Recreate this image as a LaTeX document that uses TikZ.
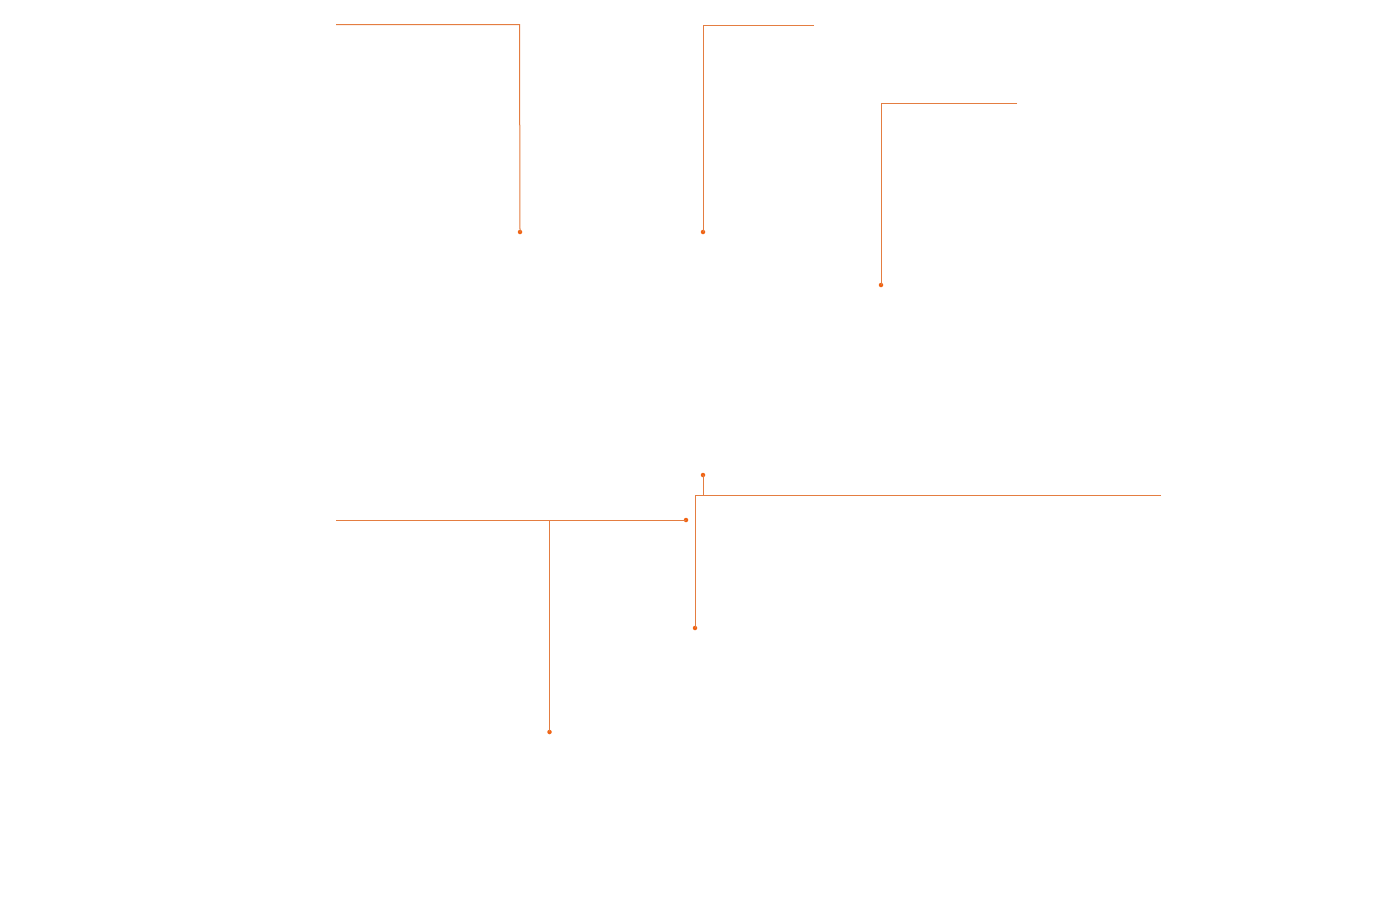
\documentclass[tikz,border=0pt]{standalone}
\definecolor{leader}{RGB}{228,125,65}
\definecolor{dotc}{RGB}{240,100,20}
\begin{document}
\begin{tikzpicture}[x=1pt,y=-1pt,
  leaderline/.style={draw=leader,line width=1pt},
  enddot/.style={circle,fill=dotc,inner sep=0pt,minimum size=4.5pt}]
\useasboundingbox (0,0) rectangle (1375,900);
\fill[white] (0,0) rectangle (1375,900);
% leader 1
\coordinate (a0) at (336,24.5);
\coordinate (a1) at (519.5,24.5);
\node[enddot] (a2) at (520,232) {};
\draw[leaderline] (a0) -- (a1) -- (a2.center);
% leader 2
\coordinate (b0) at (814,25);
\coordinate (b1) at (703,25);
\node[enddot] (b2) at (703,232) {};
\draw[leaderline] (b0) -- (b1) -- (b2.center);
% leader 3
\coordinate (c0) at (1017,103);
\coordinate (c1) at (881,103);
\node[enddot] (c2) at (881,285) {};
\draw[leaderline] (c0) -- (c1) -- (c2.center);
% leader 4
\coordinate (d0) at (336,520);
\node[enddot] (d1) at (686,520) {};
\coordinate (d2) at (549.5,520);
\node[enddot] (d3) at (549.5,732) {};
\draw[leaderline] (d0) -- (d1.center);
\draw[leaderline] (d2) -- (d3.center);
% leader 5
\node[enddot] (e0) at (703,475) {};
\coordinate (e1) at (703,495.5);
\coordinate (e2) at (1161,495.5);
\coordinate (e3) at (695,495.5);
\node[enddot] (e4) at (695,628) {};
\draw[leaderline] (e0.center) -- (e1);
\draw[leaderline] (e2) -- (e3) -- (e4.center);
\end{tikzpicture}
\end{document}
